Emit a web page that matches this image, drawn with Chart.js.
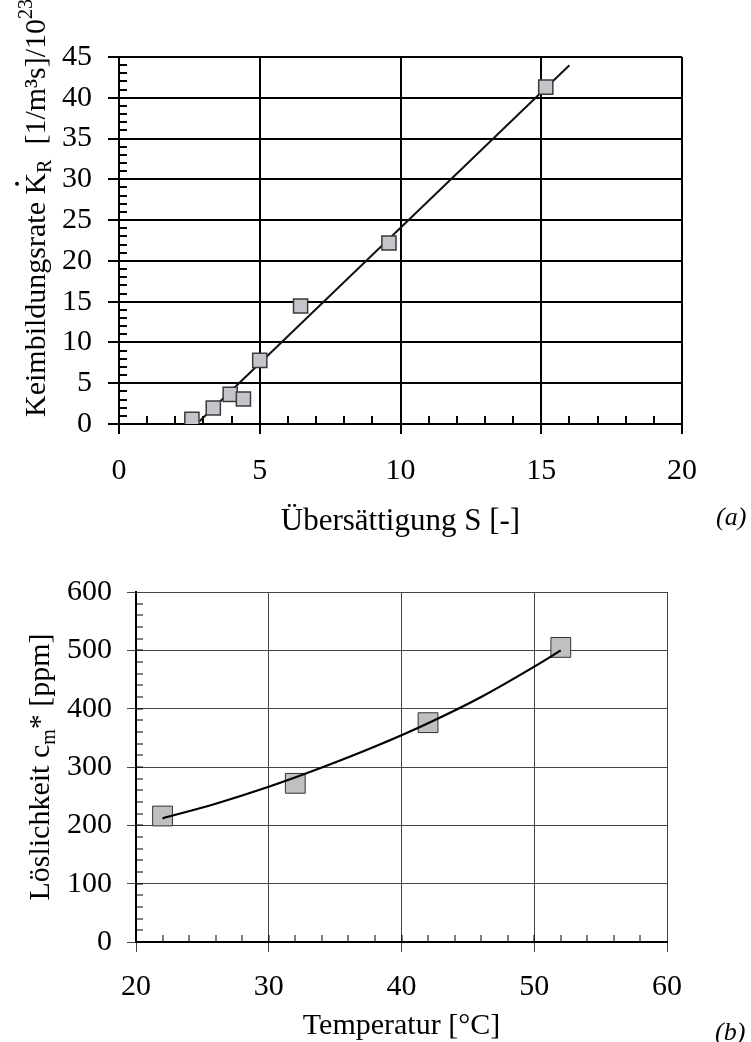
<!DOCTYPE html>
<html>
<head>
<meta charset="utf-8">
<script src="https://cdn.jsdelivr.net/npm/chart.js@4.4.0/dist/chart.umd.min.js"></script>
<style>
  html, body { margin: 0; padding: 0; background: #fff; }
  #wrap { position: relative; width: 751px; height: 1042px; }
  canvas { position: absolute; left: 0; }
</style>
</head>
<body>
<div id="wrap">
  <canvas id="chartA" width="751" height="545" style="top:0px"></canvas>
  <canvas id="chartB" width="751" height="497" style="top:545px"></canvas>
</div>
<script>
// (a) Keimbildungsrate über Übersättigung
var uebersaettigung = [2.59, 3.35, 3.95, 4.42, 5.0, 6.45, 9.59, 15.16];
var keimbildungsrate = [0.58, 1.96, 3.64, 3.07, 7.8, 14.47, 22.2, 41.3];
var fitS = [2.85, 16.0];
var fitK = [0.3, 44.0];
var sTicks = [0, 5, 10, 15, 20];
var kTicks = [0, 5, 10, 15, 20, 25, 30, 35, 40, 45];

// (b) Löslichkeit über Temperatur
var temperatur = [22, 32, 42, 52];
var loeslichkeit = [216, 272, 376, 505];
var kurveT = [22, 26, 30, 34, 38, 42, 46, 50, 52];
var kurveC = [212, 237, 266, 299, 335, 375, 420, 472, 500];
var tTicks = [20, 30, 40, 50, 60];
var cTicks = [0, 100, 200, 300, 400, 500, 600];

var SERIF = '"Liberation Serif", "Times New Roman", serif';
Chart.defaults.font.family = SERIF;
Chart.defaults.color = "#000";

function toPoints(xs, ys) {
  var pts = [];
  for (var i = 0; i < xs.length; i++) {
    pts.push({ x: xs[i], y: ys[i] });
  }
  return pts;
}

function fixedTicks(values) {
  return function (scale) {
    scale.ticks = values.map(function (v) { return { value: v }; });
  };
}

// kleine Teilstriche nach innen, Chart.js hat keine minor ticks
function minorTicks(xStep, yStep, len, width) {
  return {
    id: "minorTicks",
    beforeDatasetsDraw: function (chart) {
      var ctx = chart.ctx;
      var xs = chart.scales.x, ys = chart.scales.y;
      ctx.save();
      ctx.strokeStyle = "#000";
      ctx.lineWidth = width;
      ctx.beginPath();
      for (var v = xs.min + xStep; v < xs.max; v += xStep) {
        var px = Math.round(xs.getPixelForValue(v));
        ctx.moveTo(px, ys.bottom);
        ctx.lineTo(px, ys.bottom - len);
      }
      for (var w = ys.min + yStep; w < ys.max; w += yStep) {
        var py = Math.round(ys.getPixelForValue(w));
        ctx.moveTo(xs.left, py);
        ctx.lineTo(xs.left + len, py);
      }
      ctx.stroke();
      ctx.restore();
    }
  };
}

// gedrehter Achsentitel mit Index/Exponent
function drawRotated(ctx, parts, x, y, centered) {
  ctx.save();
  var total = 0;
  parts.forEach(function (p) {
    ctx.font = (p.italic ? "italic " : "") + p.size + "px " + SERIF;
    p.w = ctx.measureText(p.t).width;
    total += p.w;
  });
  ctx.translate(x, centered ? y + total / 2 : y);
  ctx.rotate(-Math.PI / 2);
  ctx.fillStyle = "#000";
  ctx.textBaseline = "alphabetic";
  ctx.textAlign = "left";
  var u = 0;
  parts.forEach(function (p) {
    ctx.font = p.size + "px " + SERIF;
    ctx.fillText(p.t, u, p.dy || 0);
    if (p.dot) {
      ctx.beginPath();
      ctx.arc(u + p.w / 2, -28, 2, 0, Math.PI * 2);
      ctx.fill();
    }
    u += p.w;
  });
  ctx.restore();
}

function drawText(ctx, text, x, y, size, align, italic) {
  ctx.save();
  ctx.font = (italic ? "italic " : "") + size + "px " + SERIF;
  ctx.fillStyle = "#000";
  ctx.textAlign = align;
  ctx.textBaseline = "alphabetic";
  ctx.fillText(text, x, y);
  ctx.restore();
}

var titlesA = {
  id: "titlesA",
  afterDraw: function (chart) {
    var ctx = chart.ctx, a = chart.chartArea;
    drawText(ctx, "Übersättigung S [-]", (a.left + a.right) / 2, 530, 31, "center");
    drawText(ctx, "(a)", 716, 525, 26, "left", true);
    drawRotated(ctx, [
      { t: "Keimbildungsrate ", size: 30 },
      { t: "K", size: 30, dot: true },
      { t: "R", size: 20, dy: 6 },
      { t: "  [1/m³s]/10", size: 30 },
      { t: "23", size: 20, dy: -13 }
    ], 45, 417, false);
  }
};

var titlesB = {
  id: "titlesB",
  afterDraw: function (chart) {
    var ctx = chart.ctx, a = chart.chartArea;
    drawText(ctx, "Temperatur [°C]", (a.left + a.right) / 2, 1034 - 545, 30, "center");
    drawText(ctx, "(b)", 715, 1040 - 545, 26, "left", true);
    drawRotated(ctx, [
      { t: "Löslichkeit c", size: 30 },
      { t: "m", size: 20, dy: 6 },
      { t: "* [ppm]", size: 30 }
    ], 49, 767 - 545, true);
  }
};

var tickFont = { family: SERIF, size: 30 };

new Chart(document.getElementById("chartA").getContext("2d"), {
  type: "scatter",
  data: {
    datasets: [
      {
        label: "Messwerte",
        data: toPoints(uebersaettigung, keimbildungsrate),
        pointStyle: "rect",
        pointRadius: 10,
        backgroundColor: "#c3c5cb",
        borderColor: "#3a3a3a",
        borderWidth: 1.5
      },
      {
        label: "Ausgleichsgerade",
        data: toPoints(fitS, fitK),
        showLine: true,
        pointRadius: 0,
        borderColor: "#111",
        borderWidth: 2
      }
    ]
  },
  options: {
    responsive: false,
    animation: false,
    devicePixelRatio: 1,
    layout: { padding: { left: 0, right: 69, top: 57, bottom: 0 } },
    plugins: { legend: { display: false }, tooltip: { enabled: false } },
    scales: {
      x: {
        type: "linear",
        min: 0,
        max: 20,
        afterBuildTicks: fixedTicks(sTicks),
        afterFit: function (s) { s.height = 121; },
        grid: { color: "#000", lineWidth: 2, tickLength: 10 },
        border: { color: "#000", width: 2 },
        ticks: { font: tickFont, color: "#000", padding: 19, maxRotation: 0 }
      },
      y: {
        type: "linear",
        min: 0,
        max: 45,
        afterBuildTicks: fixedTicks(kTicks),
        afterFit: function (s) { s.width = 119; },
        grid: { color: "#000", lineWidth: 2, tickLength: 11 },
        border: { color: "#000", width: 2 },
        ticks: { font: tickFont, color: "#000", padding: 16 }
      }
    }
  },
  plugins: [minorTicks(1, 1, 8, 2), titlesA]
});

new Chart(document.getElementById("chartB").getContext("2d"), {
  type: "scatter",
  data: {
    datasets: [
      {
        label: "Kurve",
        data: toPoints(kurveT, kurveC),
        showLine: true,
        pointRadius: 0,
        borderColor: "#000",
        borderWidth: 2.2,
        cubicInterpolationMode: "monotone"
      },
      {
        label: "Löslichkeit",
        data: toPoints(temperatur, loeslichkeit),
        pointStyle: "rect",
        pointRadius: 14,
        backgroundColor: "#c0c0c0",
        borderColor: "#333",
        borderWidth: 1
      }
    ]
  },
  options: {
    responsive: false,
    animation: false,
    devicePixelRatio: 1,
    layout: { padding: { left: 0, right: 84, top: 47, bottom: 0 } },
    plugins: { legend: { display: false }, tooltip: { enabled: false } },
    scales: {
      x: {
        type: "linear",
        min: 20,
        max: 60,
        afterBuildTicks: fixedTicks(tTicks),
        afterFit: function (s) { s.height = 100; },
        grid: { color: "#444", lineWidth: 1, tickLength: 10 },
        border: { color: "#000", width: 2 },
        ticks: { font: tickFont, color: "#000", padding: 17, maxRotation: 0 }
      },
      y: {
        type: "linear",
        min: 0,
        max: 600,
        afterBuildTicks: fixedTicks(cTicks),
        afterFit: function (s) { s.width = 136; },
        grid: { color: "#444", lineWidth: 1, tickLength: 9 },
        border: { color: "#000", width: 2 },
        ticks: { font: tickFont, color: "#000", padding: 15 }
      }
    }
  },
  plugins: [minorTicks(2, 20, 7, 1), titlesB]
});
</script>
</body>
</html>
